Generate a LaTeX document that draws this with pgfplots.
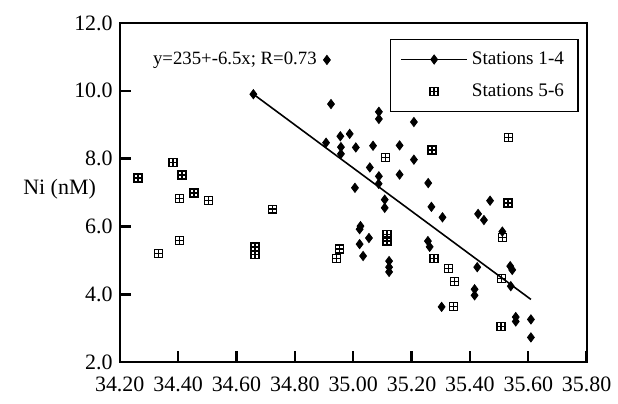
\documentclass[border=0pt]{standalone}
\usepackage{fontspec}
\setmainfont{Liberation Serif}
\usepackage{pgfplots}
\pgfplotsset{compat=1.18}
\pgfdeclareplotmark{sqplus}{%
  \pgfpathrectangle{\pgfqpoint{-\pgfplotmarksize}{-\pgfplotmarksize}}{\pgfqpoint{2\pgfplotmarksize}{2\pgfplotmarksize}}%
  \pgfpathmoveto{\pgfqpoint{-\pgfplotmarksize}{0pt}}\pgfpathlineto{\pgfqpoint{\pgfplotmarksize}{0pt}}%
  \pgfpathmoveto{\pgfqpoint{0pt}{-\pgfplotmarksize}}\pgfpathlineto{\pgfqpoint{0pt}{\pgfplotmarksize}}%
  \pgfusepathqstroke}
\pgfplotsset{
  mylegline/.style={legend image code/.code={\draw[mark repeat=2,mark phase=2,##1] plot coordinates {(0cm,0cm) (0.58cm,0cm) (1.16cm,0cm)};}},
  mylegmark/.style={legend image code/.code={\draw[##1] plot[only marks] coordinates {(0.58cm,0cm)};}},
}
\begin{document}
\begin{tikzpicture}
\begin{axis}[
  scale only axis, width=234pt, height=170pt,
  xmin=34.2, xmax=35.8, ymin=2, ymax=12,
  xtick={34.2,34.4,34.6,34.8,35.0,35.2,35.4,35.6,35.8},
  ytick={2,4,6,8,10,12},
  tick pos=left,
  tick align=inside,
  major tick length=5.5pt,
  major tick style={draw=black, line width=1.2pt},
  axis line style={line width=1pt},
  /pgf/number format/assume math mode=true,
  xticklabel style={/pgf/number format/.cd, fixed, fixed zerofill, precision=2, /tikz/.cd, font=\fontsize{11}{13}\selectfont, yshift=-4pt},
  yticklabel style={/pgf/number format/.cd, fixed, fixed zerofill, precision=1, /tikz/.cd, font=\fontsize{11}{13}\selectfont},
  ylabel={Ni (nM)},
  ylabel style={rotate=-90, at={(axis description cs:-0.036,0.51)}, anchor=east, font=\fontsize{11}{13}\selectfont},
  legend style={draw=black, line width=0.8pt, at={(0.983,0.953)}, anchor=north east,
    font=\fontsize{9.6}{11}\selectfont, inner xsep=5pt, inner ysep=4pt, row sep=4.2pt,
    cells={anchor=west}},
  clip=false,
]
\addlegendimage{black, line width=0.8pt, mark=diamond*, mark size=2.3pt, mark options={solid, line width=0.4pt}, mylegline}
\addlegendentry{Stations 1-4}
\addplot[only marks, mark=diamond*, mark size=2.3pt, mark options={black, fill=black, line width=0.4pt}, forget plot] table {
x y
34.910 10.91
34.658 9.90
34.924 9.61
34.907 8.47
35.088 9.38
35.088 9.17
35.208 9.08
34.956 8.66
34.988 8.73
34.958 8.34
34.958 8.14
35.009 8.33
35.068 8.38
35.159 8.39
35.208 7.97
35.057 7.74
35.088 7.48
35.087 7.26
35.159 7.53
35.006 7.14
35.108 6.79
35.108 6.55
35.025 6.01
35.022 5.92
35.054 5.66
35.022 5.48
35.034 5.13
35.123 4.98
35.123 4.80
35.123 4.66
35.257 7.28
35.268 6.58
35.306 6.27
35.469 6.76
35.428 6.37
35.448 6.19
35.256 5.57
35.262 5.40
35.425 4.80
35.416 4.15
35.416 3.97
35.303 3.63
35.538 4.83
35.545 4.72
35.540 4.24
35.511 5.85
35.557 3.33
35.557 3.20
35.609 3.26
35.609 2.73
};
\addplot[only marks, mark=sqplus, mark size=2pt, mark options={black, line width=0.7pt}, mylegmark] table {
x y
34.263 7.43
34.383 7.89
34.414 7.52
34.404 6.83
34.454 6.99
34.505 6.76
34.723 6.51
34.404 5.59
34.332 5.21
34.663 5.40
34.663 5.18
34.954 5.34
34.942 5.05
35.116 5.76
35.116 5.57
35.110 8.04
35.270 8.26
35.532 8.63
35.531 6.69
35.511 5.68
35.277 5.06
35.326 4.76
35.347 4.38
35.344 3.64
35.509 4.46
35.507 3.05
};
\addlegendentry{Stations 5-6}
\addplot[black, line width=0.8pt, forget plot] coordinates {(34.658,9.90) (35.609,3.85)};
\node[anchor=west, font=\fontsize{9.4}{11}\selectfont, inner sep=0pt] at (axis cs:34.313,10.91) {y=235+-6.5x; R=0.73};
\end{axis}
\path ([xshift=-60pt,yshift=-20.5pt]current axis.south west) rectangle ([xshift=15pt,yshift=11.5pt]current axis.north east);
\end{tikzpicture}
\end{document}
